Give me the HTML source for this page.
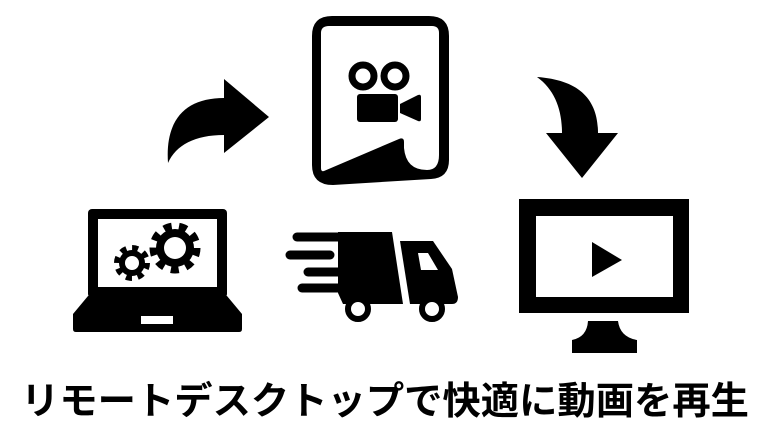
<!DOCTYPE html>
<html><head><meta charset="utf-8"><style>html,body{margin:0;padding:0;background:#fff}svg{display:block}</style></head>
<body>
<svg width="770" height="440" viewBox="0 0 770 440" xmlns="http://www.w3.org/2000/svg">
<rect width="770" height="440" fill="#fff"/>
<path d="M168,163 C165,120 185,98 224,98 L224,79 L269,117 L224,153 L224,135 C195,135 176,145 168,163 Z" fill="#000"/>
<path d="M332,16 L429,16 Q449,16 449,36 L449,160 Q449,178 431,179 L333,185 Q312,185 312,165 L312,36 Q312,16 332,16 Z" fill="#000"/>
<path d="M329,26 L432,26 Q439,26 439,33 L439,155 Q439,170 427,170 Q406,170 404,148 L404,142 Q404,137 399,139 L324,171 Q321,172 321,168 L321,33 Q321,26 329,26 Z" fill="#fff"/>
<circle cx="363" cy="76" r="11" fill="none" stroke="#000" stroke-width="7"/>
<circle cx="395" cy="76" r="11" fill="none" stroke="#000" stroke-width="7"/>
<rect x="357" y="94" width="41" height="28" rx="3" fill="#000"/>
<path d="M400,104 L418,95 Q421,94 421,97 L421,119 Q421,122 418,121 L400,113 Z" fill="#000"/>
<rect x="88" y="209" width="139" height="89" rx="4" fill="#000"/>
<rect x="98" y="219" width="119" height="68" fill="#fff"/>
<path d="M88,296 L227,296 L242,314 L242,329 Q242,332 239,332 L76,332 Q73,332 73,329 L73,314 Z" fill="#000"/>
<rect x="141" y="316" width="32" height="8" fill="#fff"/>
<circle cx="132" cy="263" r="13" fill="#000"/>
<circle cx="132" cy="263" r="15" fill="none" stroke="#000" stroke-width="6" stroke-dasharray="6 5.78"/>
<circle cx="132" cy="263" r="7" fill="#fff"/>
<circle cx="175" cy="248" r="19" fill="#000"/>
<circle cx="175" cy="248" r="22" fill="none" stroke="#000" stroke-width="7" stroke-dasharray="8 7.36"/>
<circle cx="175" cy="248" r="11" fill="#fff"/>
<path d="M338,232 L392,232 L403,304 L343,304 L338,293 Z" fill="#000"/>
<g stroke="#000" stroke-width="9" stroke-linecap="round">
<line x1="297" y1="237" x2="345" y2="237"/>
<line x1="290" y1="255" x2="330" y2="255"/>
<line x1="308" y1="272" x2="340" y2="272"/>
<line x1="302" y1="288" x2="340" y2="288"/>
</g>
<path d="M400,241 L433,241 L452,269 L458,297 Q458,304 452,304 L410,304 Z" fill="#000"/>
<path d="M418,253 L428,253 L438,270 L421,270 Z" fill="#fff"/>
<circle cx="358" cy="309" r="10" fill="#fff" stroke="#000" stroke-width="6"/>
<circle cx="432" cy="309" r="10" fill="#fff" stroke="#000" stroke-width="6"/>
<path d="M537,77 C580,80 598,100 598,133 L618,133 L582,178 L546,133 L562,133 C562,110 555,90 537,77 Z" fill="#000"/>
<rect x="519" y="199" width="170" height="114" fill="#000"/>
<rect x="536" y="216" width="137" height="81" fill="#fff"/>
<path d="M592,242 L622,260 L592,277 Z" fill="#000"/>
<path d="M588,321 L618,321 Q620,337 637,340 L637,353 L572,353 L572,340 Q587,337 588,321 Z" fill="#000"/>
<text x="385" y="414" text-anchor="middle" textLength="728" lengthAdjust="spacingAndGlyphs" font-family="'Liberation Sans','Noto Sans CJK JP',sans-serif" font-weight="bold" font-size="38" fill="#000">リモートデスクトップで快適に動画を再生</text>
</svg>
</body></html>
